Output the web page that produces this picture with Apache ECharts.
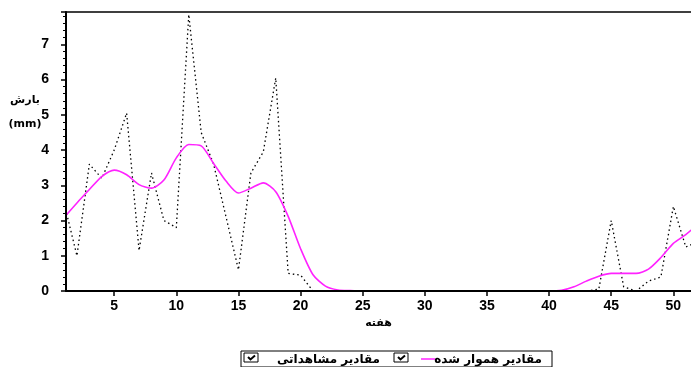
<!DOCTYPE html>
<html>
<head>
<meta charset="utf-8">
<script src="https://cdn.jsdelivr.net/npm/echarts@6/dist/echarts.min.js"></script>
<style>html,body{margin:0;padding:0;background:#fff}#c{width:691px;height:367px}</style>
</head>
<body>
<div id="c"></div>
<script>
// weeks 1..52
var weeks = [];
for (var i = 1; i <= 52; i++) weeks.push(i);

var observed = [2.45, 1.0, 3.6, 3.2, 4.0, 5.05, 1.15, 3.35, 2.0, 1.8,
  7.85, 4.5, 3.6, 2.1, 0.6, 3.35, 3.95, 6.05, 0.5, 0.45,
  0, 0, 0, 0, 0, 0, 0, 0, 0, 0,
  0, 0, 0, 0, 0, 0, 0, 0, 0, 0,
  0, 0, 0, 0.05, 2.0, 0.12, 0, 0.28, 0.4, 2.4,
  1.25, 1.4];

var smoothed = [2.1, 2.5, 2.88, 3.25, 3.43, 3.3, 3.02, 2.92, 3.15, 3.78,
  4.16, 4.12, 3.62, 3.12, 2.78, 2.92, 3.07, 2.82, 2.12, 1.2,
  0.46, 0.14, 0.03, 0.01, 0, 0, 0, 0, 0, 0,
  0, 0, 0, 0, 0, 0, 0, 0, 0, 0,
  0.02, 0.12, 0.28, 0.42, 0.5, 0.5, 0.5, 0.62, 0.95, 1.35,
  1.6, 1.9];

var xTicks = [5, 10, 15, 20, 25, 30, 35, 40, 45, 50];
var seriesNames = ['مقادیر مشاهداتی', 'مقادیر هموار شده'];
var yName1 = 'بارش';
var yName2 = '(mm)';
var xName = 'هفته';

function pairs(vals) {
  return weeks.map(function (w, i) { return [w, vals[i]]; });
}

var chart = echarts.init(document.getElementById('c'));
var fa = '"DejaVu Sans", sans-serif';

function checkbox(x, y) {
  return {
    type: 'group', x: x, y: y,
    children: [
      { type: 'rect', shape: { x: 0, y: 0, width: 14, height: 9 }, style: { fill: '#fff', stroke: '#000', lineWidth: 1 } },
      { type: 'polyline', shape: { points: [[4, 4], [6.5, 6.5], [11, 2.5]] }, style: { stroke: '#000', lineWidth: 2, fill: null } }
    ]
  };
}

var xMin = 1.12, xMax = 51.42;

chart.setOption({
  animation: false,
  backgroundColor: '#fff',
  grid: { left: 66, top: 12, right: 0, bottom: 76, show: false },
  xAxis: [{
    type: 'value', min: xMin, max: xMax, z: 5,
    name: xName, nameLocation: 'middle', nameGap: 26,
    nameTextStyle: { fontFamily: fa, fontWeight: 'bold', fontSize: 11, color: '#000' },
    axisLine: { show: true, lineStyle: { color: '#000', width: 2 } },
    axisTick: { show: true, customValues: xTicks, length: 5, lineStyle: { color: '#000', width: 1.5 } },
    axisLabel: { customValues: xTicks, color: '#000', fontWeight: 'bold', fontSize: 14, fontFamily: 'Liberation Sans, Arial', margin: 8 },
    splitLine: { show: false }
  }, {
    type: 'value', position: 'top', min: xMin, max: xMax, z: 5,
    axisLine: { show: true, lineStyle: { color: '#000', width: 1.5 } },
    axisTick: { show: false }, axisLabel: { show: false }, splitLine: { show: false }
  }],
  yAxis: {
    type: 'value', min: 0, max: 7.92, interval: 1, z: 5,
    axisLine: { show: true, lineStyle: { color: '#000', width: 2 } },
    axisTick: { show: true, length: 5, lineStyle: { color: '#000', width: 1.5 } },
    minorTick: { show: true, splitNumber: 5, length: 3, lineStyle: { color: '#000', width: 1 } },
    axisLabel: { color: '#000', fontWeight: 'bold', fontSize: 14, fontFamily: 'Liberation Sans, Arial', margin: 17, showMaxLabel: false },
    splitLine: { show: false }
  },
  series: [
    {
      name: seriesNames[0], type: 'line', data: pairs(observed), symbol: 'none',
      lineStyle: { color: '#000', width: 1.3, type: [1.5, 3] }
    },
    {
      name: seriesNames[1], type: 'line', data: pairs(smoothed), symbol: 'none', smooth: 0.25,
      lineStyle: { color: '#ff22ff', width: 1.6 }
    }
  ],
  graphic: [
    { type: 'text', x: 25, y: 100, style: { text: yName1, font: 'bold 11px ' + fa, fill: '#000', align: 'center', verticalAlign: 'middle' } },
    { type: 'text', x: 25, y: 124, style: { text: yName2, font: 'bold 11px ' + fa, fill: '#000', align: 'center', verticalAlign: 'middle' } },
    { type: 'rect', shape: { x: 241, y: 351, width: 311, height: 16 }, style: { fill: '#fff', stroke: '#000', lineWidth: 1 } },
    checkbox(244, 353),
    checkbox(394, 353),
    { type: 'text', x: 380, y: 360, style: { text: seriesNames[0], font: 'bold 12px ' + fa, fill: '#000', align: 'right', verticalAlign: 'middle' } },
    { type: 'line', shape: { x1: 421, y1: 359, x2: 435, y2: 359 }, style: { stroke: '#ff22ff', lineWidth: 1.5 } },
    { type: 'text', x: 542, y: 360, style: { text: seriesNames[1], font: 'bold 12px ' + fa, fill: '#000', align: 'right', verticalAlign: 'middle' } }
  ]
});
</script>
</body>
</html>
